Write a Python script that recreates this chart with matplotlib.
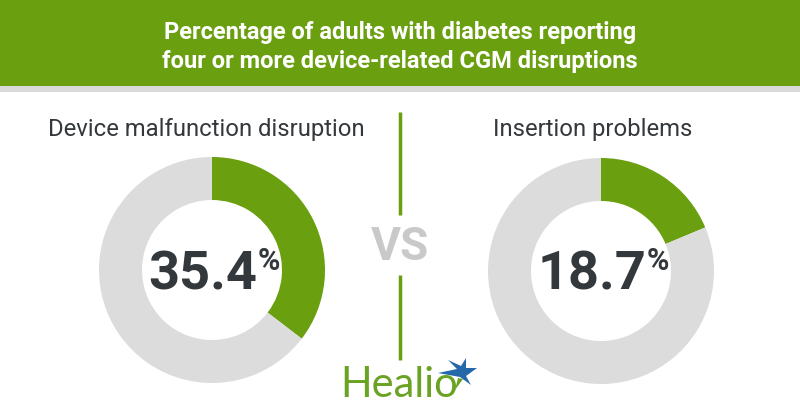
import matplotlib.pyplot as plt
from matplotlib.patches import Rectangle, Polygon

# data
title_lines = [
    "Percentage of adults with diabetes reporting",
    "four or more device-related CGM disruptions",
]
categories = ["Device malfunction disruption", "Insertion problems"]
percentages = [35.4, 18.7]

GREEN = "#6a9f10"
LIGHT_GRAY = "#dcdcdc"
DARK = "#33383c"

W, H = 800, 420


def y_(v):
    # image-style y (top down) -> axes y (bottom up)
    return H - v


fig = plt.figure(figsize=(8, 4.2), dpi=100)
ax = fig.add_axes([0, 0, 1, 1])

# header band
ax.add_patch(Rectangle((0, y_(86)), W, 86, color=GREEN, lw=0))
ax.add_patch(Rectangle((0, y_(92)), W, 6, color="#dadada", lw=0))
for i, line in enumerate(title_lines):
    ax.text(
        400, y_(39 + 29 * i), line,
        ha="center", va="baseline", color="white",
        fontsize=17, fontweight="bold", family="Roboto",
    )

# donuts
centers = [(212, 270), (601, 271)]
label_x = [206, 593]
for pct, cat, (cx, cy), lx in zip(percentages, categories, centers, label_x):
    ax.pie(
        [pct, 100 - pct],
        colors=[GREEN, LIGHT_GRAY],
        startangle=90,
        counterclock=False,
        center=(cx, y_(cy)),
        radius=113,
        wedgeprops=dict(width=43, linewidth=0),
        frame=True,
    )
    ax.text(
        lx, y_(136), cat, ha="center", va="baseline",
        fontsize=17.2, color=DARK, family="Roboto",
    )
    ax.text(
        cx + 45, y_(289), f"{pct:.1f}", ha="right", va="baseline",
        fontsize=39, fontweight="bold", color=DARK, family="Roboto",
    )
    ax.text(
        cx + 46, y_(246), "%", ha="left", va="top",
        fontsize=22, fontweight="bold", color=DARK, family="Roboto",
    )

# divider and VS
ax.plot([400, 400], [y_(112), y_(215)], color=GREEN, lw=2.5, solid_capstyle="butt")
ax.plot([400, 400], [y_(275), y_(360)], color=GREEN, lw=2.5, solid_capstyle="butt")
ax.text(
    400, y_(247), "VS", ha="center", va="center",
    fontsize=33, fontweight="bold", color="#c9c9c9", family="Roboto",
)

# Healio logo
ax.text(
    340, y_(397), "Healio", ha="left", va="baseline",
    fontsize=30, color="#6aa324", family="Lato",
)
star = [(438, 373), (457, 369), (448, 360), (461, 366), (466, 358),
        (466, 368), (477, 368), (466, 376), (471, 385), (460, 377)]
ax.add_patch(Polygon([(x, y_(y)) for x, y in star], closed=True,
                     color="#2468aa", lw=0))
ax.add_patch(Polygon([(x, y_(y)) for x, y in [(455, 390), (458, 378), (463, 379)]],
                     closed=True, color="#6aa324", lw=0))

ax.set_xlim(0, W)
ax.set_ylim(0, H)
ax.set_aspect("auto")
ax.axis("off")

fig.savefig("out.png", dpi=100, facecolor="white")
